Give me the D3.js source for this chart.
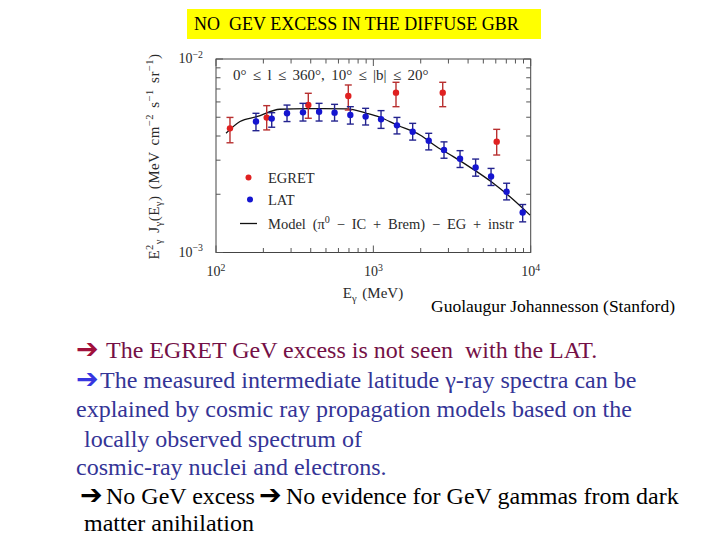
<!DOCTYPE html>
<html><head><meta charset="utf-8">
<script src="https://cdn.jsdelivr.net/npm/d3@7"></script>
<style>
html,body{margin:0;padding:0;background:#fff;}
svg text{white-space:pre;}
</style>
</head><body>
<svg id="c" width="720" height="540"></svg>
<script>
// ---------- data ----------
const egretE  = [122.7, 210, 386, 693, 1393, 2760, 6080];
const egretF  = [4.38e-3, 4.98e-3, 5.78e-3, 6.44e-3, 6.70e-3, 6.70e-3, 3.74e-3];
const egretHi = [4.99e-3, 5.74e-3, 6.65e-3, 7.34e-3, 7.58e-3, 7.58e-3, 4.33e-3];
const egretLo = [3.69e-3, 4.30e-3, 4.94e-3, 5.45e-3, 5.67e-3, 5.67e-3, 3.19e-3];

const latE  = [179.5, 226, 282.7, 357, 452, 567, 714, 893, 1119, 1413, 1778, 2249, 2812, 3556, 4467, 5598, 7031, 8892];
const latF  = [4.75e-3, 4.92e-3, 5.24e-3, 5.30e-3, 5.34e-3, 5.28e-3, 5.14e-3, 5.04e-3, 4.88e-3, 4.54e-3, 4.21e-3, 3.78e-3, 3.39e-3, 3.05e-3, 2.75e-3, 2.47e-3, 2.06e-3, 1.61e-3];
const latHi = [5.24e-3, 5.28e-3, 5.78e-3, 5.90e-3, 5.90e-3, 5.83e-3, 5.67e-3, 5.56e-3, 5.41e-3, 4.99e-3, 4.65e-3, 4.13e-3, 3.73e-3, 3.36e-3, 3.04e-3, 2.72e-3, 2.28e-3, 1.77e-3];
const latLo = [4.26e-3, 4.44e-3, 4.75e-3, 4.78e-3, 4.78e-3, 4.78e-3, 4.61e-3, 4.56e-3, 4.38e-3, 4.10e-3, 3.81e-3, 3.39e-3, 3.07e-3, 2.75e-3, 2.48e-3, 2.22e-3, 1.87e-3, 1.44e-3];

const modelE = [115.8, 142.1, 181.4, 255, 377, 677, 907, 1102, 1407, 1979, 2527, 3222, 4317, 5785, 7386, 9897];
const modelF = [4.13e-3, 4.75e-3, 5.03e-3, 5.50e-3, 5.54e-3, 5.52e-3, 5.24e-3, 5.00e-3, 4.56e-3, 4.05e-3, 3.52e-3, 3.13e-3, 2.69e-3, 2.28e-3, 1.94e-3, 1.56e-3];

const xTickValues = [100, 1000, 10000];
const xTickLabels = [["10","2"], ["10","3"], ["10","4"]];
const yTickValues = [1e-3, 1e-2];
const yTickLabels = [["10","−3"], ["10","−2"]];

const titleText = "NO  GEV EXCESS IN THE DIFFUSE GBR";
const creditText = "Guolaugur Johannesson (Stanford)";

// ---------- layout ----------
const svg = d3.select("#c");
const L = 216, R = 530.7, T = 59, B = 252.5;
const x = d3.scaleLog().domain([100, 10000]).range([L, R]);
const y = d3.scaleLog().domain([1e-3, 1e-2]).range([B, T]);
const chartFont = "'Liberation Serif', 'Times New Roman', serif";
const ink = "#2a2a2a";

// rich text helper: parts = [[text, mode]] mode: 0 normal, 1 sup, -1 sub
function rich(sel, parts, fs) {
  let cur = 0;
  parts.forEach(([t, m]) => {
    const target = m === 1 ? -fs * 0.38 : (m === -1 ? fs * 0.25 : 0);
    const ts = sel.append("tspan").text(t).attr("dy", target - cur);
    if (m !== 0) ts.attr("font-size", fs * 0.7);
    cur = target;
  });
}

// title box
svg.append("rect").attr("x", 187).attr("y", 9).attr("width", 354).attr("height", 30).attr("fill", "#ffff00");
svg.append("text").attr("x", 194).attr("y", 30).attr("font-family", chartFont).attr("font-size", 18)
  .attr("fill", "#000").text(titleText);

// frame
svg.append("rect").attr("x", L).attr("y", T).attr("width", R - L).attr("height", B - T)
  .attr("fill", "none").attr("stroke", "#444").attr("stroke-width", 1);

// ticks
const xTicks = x.ticks();
const yTicks = y.ticks();
const isMajor = v => Math.abs(Math.log10(v) - Math.round(Math.log10(v))) < 1e-6;
const tg = svg.append("g").attr("stroke", "#555").attr("stroke-width", 1);
xTicks.forEach(v => {
  const len = isMajor(v) ? 7 : 4.5;
  const px = x(v);
  tg.append("line").attr("x1", px).attr("x2", px).attr("y1", B).attr("y2", B - len);
  tg.append("line").attr("x1", px).attr("x2", px).attr("y1", T).attr("y2", T + len);
});
yTicks.forEach(v => {
  const len = isMajor(v) ? 7 : 4.5;
  const py = y(v);
  tg.append("line").attr("x1", L).attr("x2", L + len).attr("y1", py).attr("y2", py);
  tg.append("line").attr("x1", R).attr("x2", R - len).attr("y1", py).attr("y2", py);
});

// tick labels
xTickValues.forEach((v, i) => {
  const t = svg.append("text").attr("x", x(v)).attr("y", 276).attr("text-anchor", "middle")
    .attr("font-family", chartFont).attr("font-size", 14).attr("fill", ink);
  rich(t, [[xTickLabels[i][0], 0], [xTickLabels[i][1], 1]], 14);
});
yTickValues.forEach((v, i) => {
  const t = svg.append("text").attr("x", 203).attr("y", y(v) + 4).attr("text-anchor", "end")
    .attr("font-family", chartFont).attr("font-size", 14).attr("fill", ink);
  rich(t, [[yTickLabels[i][0], 0], [yTickLabels[i][1], 1]], 14);
});

// axis titles
const xl = svg.append("text").attr("x", 373).attr("y", 298).attr("text-anchor", "middle")
  .attr("font-family", chartFont).attr("font-size", 15).attr("fill", ink).attr("word-spacing", 2);
rich(xl, [["E", 0], ["γ", -1], [" (MeV)", 0]], 15);

const yl = svg.append("text").attr("transform", "translate(158.5,156.5) rotate(-90)").attr("text-anchor", "middle")
  .attr("font-family", chartFont).attr("font-size", 15).attr("fill", ink)
  .attr("letter-spacing", 0.5).attr("word-spacing", 2);
rich(yl, [["E", 0], ["2", 1], ["γ", -1], [" J", 0], ["γ", -1], ["(E", 0], ["γ", -1], [") (MeV cm", 0], ["−2", 1], [" s", 0], ["−1", 1], [" sr", 0], ["−1", 1], [")", 0]], 15);

// region annotation
svg.append("text").attr("x", 233).attr("y", 80).attr("font-family", chartFont).attr("font-size", 15)
  .attr("fill", ink).attr("word-spacing", 2.6).text("0° ≤ l ≤ 360°, 10° ≤ |b| ≤ 20°");

// model curve
const line = d3.line().x(d => x(d[0])).y(d => y(d[1])).curve(d3.curveMonotoneX);
svg.append("path").datum(modelE.map((e, i) => [e, modelF[i]])).attr("d", line)
  .attr("fill", "none").attr("stroke", "#111").attr("stroke-width", 1.3);

// error bars + points
function series(E, F, Hi, Lo, barColor, dotColor) {
  const g = svg.append("g");
  E.forEach((e, i) => {
    const px = x(e);
    g.append("line").attr("x1", px).attr("x2", px).attr("y1", y(Hi[i])).attr("y2", y(Lo[i]))
      .attr("stroke", barColor).attr("stroke-width", 1.4);
    [Hi[i], Lo[i]].forEach(v => g.append("line").attr("x1", px - 3.5).attr("x2", px + 3.5)
      .attr("y1", y(v)).attr("y2", y(v)).attr("stroke", barColor).attr("stroke-width", 1.4));
    g.append("circle").attr("cx", px).attr("cy", y(F[i])).attr("r", 3.2).attr("fill", dotColor);
  });
}
series(egretE, egretF, egretHi, egretLo, "#b83030", "#e02020");
series(latE, latF, latHi, latLo, "#23238f", "#1515d0");

// legend
svg.append("circle").attr("cx", 248.5).attr("cy", 177.5).attr("r", 3).attr("fill", "#e02020");
svg.append("text").attr("x", 268).attr("y", 182.5).attr("font-family", chartFont).attr("font-size", 14.5)
  .attr("fill", ink).text("EGRET");
svg.append("circle").attr("cx", 250).attr("cy", 199.5).attr("r", 3).attr("fill", "#1515d0");
svg.append("text").attr("x", 268).attr("y", 204.5).attr("font-family", chartFont).attr("font-size", 14.5)
  .attr("fill", ink).text("LAT");
svg.append("line").attr("x1", 240).attr("x2", 257).attr("y1", 223.5).attr("y2", 223.5).attr("stroke", "#111").attr("stroke-width", 1.3);
const ml = svg.append("text").attr("x", 268).attr("y", 228.5).attr("font-family", chartFont).attr("font-size", 14.5)
  .attr("fill", ink).attr("word-spacing", 3.2);
rich(ml, [["Model (π", 0], ["0", 1], [" − IC + Brem) − EG + instr", 0]], 14.5);

// credit
svg.append("text").attr("x", 431).attr("y", 312).attr("font-family", chartFont).attr("font-size", 17.5)
  .attr("fill", "#000").text(creditText);

// bullet text: [text, colour, x, isArrow]
const arrowFont = "'DejaVu Sans', sans-serif";
const body = [
  {y: 358, segs: [["➔", "#a0103c", 76, true], ["The EGRET GeV excess is not seen  with the LAT.", "#741046", 106]]},
  {y: 388, segs: [["➔", "#3636e0", 76, true], ["The measured intermediate latitude γ-ray spectra can be", "#343496", 100]]},
  {y: 417, segs: [["explained by cosmic ray propagation models based on the", "#343496", 76]]},
  {y: 446.5, segs: [["locally observed spectrum of", "#343496", 84]]},
  {y: 475, segs: [["cosmic-ray nuclei and electrons.", "#343496", 76]]},
  {y: 503.5, segs: [["➔", "#000", 80, true], ["No GeV excess", "#000", 106], ["➔", "#000", 259, true], ["No evidence for GeV gammas from dark", "#000", 286]]},
  {y: 531, segs: [["matter anihilation", "#000", 84]]}
];
body.forEach(line => {
  const t = svg.append("text").attr("y", line.y).attr("font-family", chartFont).attr("font-size", 24);
  line.segs.forEach(s => {
    const ts = t.append("tspan").text(s[0]).attr("fill", s[1]).attr("x", s[2]);
    if (s[3]) ts.attr("font-family", arrowFont).attr("font-size", 27).attr("font-weight", "bold");
  });
});
</script>
</body></html>
